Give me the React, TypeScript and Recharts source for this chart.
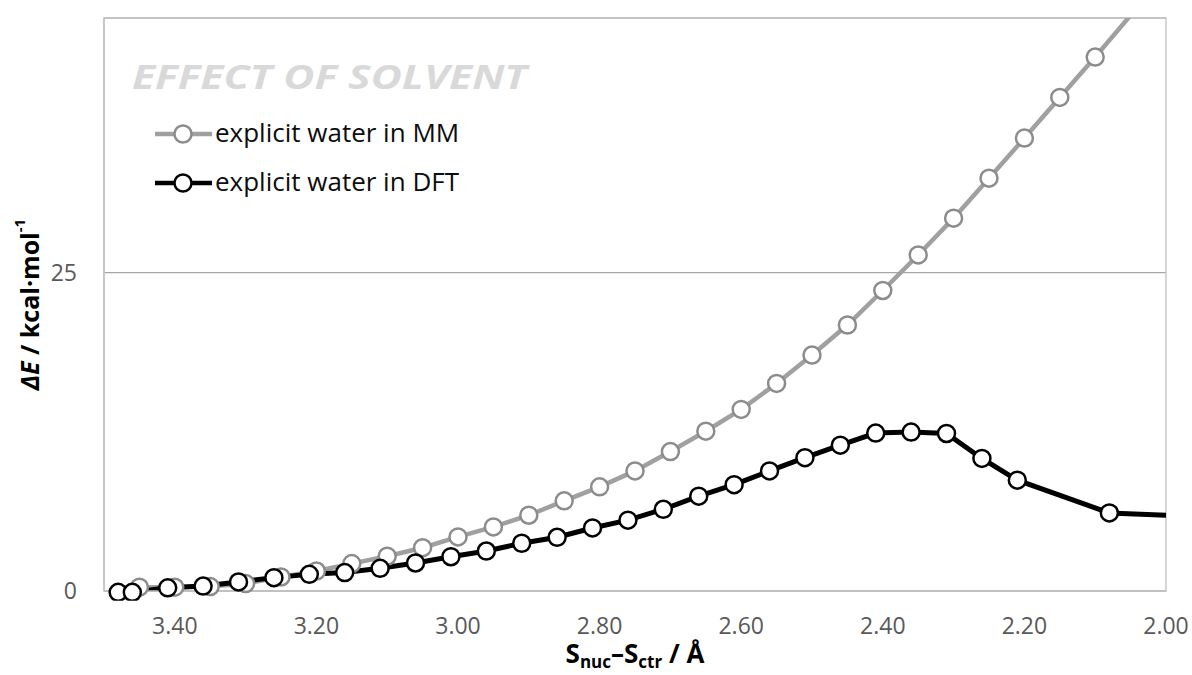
import React from "react";
import {
  LineChart,
  Line,
  XAxis,
  YAxis,
  CartesianGrid,
  ReferenceArea,
  Customized,
} from "recharts";

// distances S_nuc–S_ctr (Å) and energies (kcal/mol)
const mmDistance = [
  3.45, 3.4, 3.35, 3.3, 3.25, 3.2, 3.15, 3.1, 3.05, 3.0, 2.95, 2.9, 2.85, 2.8,
  2.75, 2.7, 2.65, 2.6, 2.55, 2.5, 2.45, 2.4, 2.35, 2.3, 2.25, 2.2, 2.15, 2.1,
  2.0,
];
const mmEnergy = [
  0.3, 0.3, 0.35, 0.58, 1.1, 1.57, 2.15, 2.73, 3.4, 4.25, 5.03, 5.95, 7.08,
  8.18, 9.43, 10.95, 12.55, 14.26, 16.3, 18.53, 20.89, 23.6, 26.39, 29.28,
  32.42, 35.57, 38.76, 41.93, 48.5,
];

const dftDistance = [
  3.48, 3.46, 3.41, 3.36, 3.31, 3.26, 3.21, 3.16, 3.11, 3.06, 3.01, 2.96, 2.91,
  2.86, 2.81, 2.76, 2.71, 2.66, 2.61, 2.56, 2.51, 2.46, 2.41, 2.36, 2.31, 2.26,
  2.21, 2.08, 1.95,
];
const dftEnergy = [
  -0.1, -0.1, 0.25, 0.39, 0.71, 1.05, 1.31, 1.45, 1.78, 2.2, 2.69, 3.14, 3.75,
  4.22, 4.95, 5.56, 6.42, 7.45, 8.35, 9.43, 10.47, 11.45, 12.4, 12.48, 12.37,
  10.41, 8.7, 6.13, 5.85,
];

const xTicks = [2.0, 2.2, 2.4, 2.6, 2.8, 3.0, 3.2, 3.4];
const yTicks = [0, 25];

const seriesNames = ["explicit water in MM", "explicit water in DFT"];
const seriesColors = ["#a0a0a0", "#000000"];
const markerColors = ["#8c8c8c", "#000000"];

const mmData = mmDistance.map((x, i) => ({ x, y: mmEnergy[i] }));
const dftData = dftDistance.map((x, i) => ({ x, y: dftEnergy[i] }));

const FONT = "'Open Sans', 'Liberation Sans', sans-serif";

const XTick = ({ x, y, payload }: any) => (
  <text
    x={x}
    y={y + 43}
    textAnchor="middle"
    fontFamily={FONT}
    fontSize={23}
    fill="#595959"
  >
    {Number(payload.value).toFixed(2)}
  </text>
);

const YTick = ({ x, y, payload }: any) => (
  <text
    x={x - 27}
    y={y + 8}
    textAnchor="end"
    fontFamily={FONT}
    fontSize={23}
    fill="#595959"
  >
    {payload.value}
  </text>
);

const XTitle = ({ viewBox }: any) => {
  const cx = viewBox.x + viewBox.width / 2;
  return (
    <text
      x={cx}
      y={viewBox.y + 72}
      textAnchor="middle"
      fontFamily={FONT}
      fontSize={26}
      fontWeight="bold"
      fill="#000"
    >
      S<tspan fontSize={17} dy={5}>nuc</tspan>
      <tspan dy={-5}>–S</tspan>
      <tspan fontSize={17} dy={5}>ctr</tspan>
      <tspan dy={-5}> / Å</tspan>
    </text>
  );
};

const YTitle = ({ viewBox }: any) => {
  const cx = 29;
  const cy = viewBox.y + viewBox.height / 2;
  return (
    <text
      x={cx}
      y={cy}
      transform={`rotate(-90 ${cx} ${cy})`}
      textAnchor="middle"
      dominantBaseline="central"
      fontFamily={FONT}
      fontSize={25}
      fontWeight="bold"
      fill="#000"
    >
      <tspan fontStyle="italic">ΔE</tspan> / kcal·mol
      <tspan fontSize={15} dy={-10}>-1</tspan>
    </text>
  );
};

// chart title and legend sit inside the plot area, top left
const TitleAndLegend = () => (
  <g>
    <text
      x={132}
      y={89}
      fontFamily={FONT}
      fontSize={34}
      fontWeight="bold"
      fontStyle="italic"
      fill="#d9d9d9"
      textLength={395}
      lengthAdjust="spacingAndGlyphs"
    >
      EFFECT OF SOLVENT
    </text>
    {seriesNames.map((name, i) => {
      const cy = 134 + i * 49;
      return (
        <g key={name}>
          <line
            x1={155}
            x2={212}
            y1={cy}
            y2={cy}
            stroke={seriesColors[i]}
            strokeWidth={4.5}
          />
          <circle
            cx={183}
            cy={cy}
            r={8.5}
            fill="#fff"
            stroke={markerColors[i]}
            strokeWidth={2.5}
          />
          <text
            x={215}
            y={cy + 8}
            fontFamily={FONT}
            fontSize={26}
            fill="#0d0d0d"
          >
            {name}
          </text>
        </g>
      );
    })}
  </g>
);

const App = () => {
  return (
    <div style={{ position: "absolute", left: 0, top: 0, background: "#fff" }}>
      <LineChart
        width={1192}
        height={675}
        margin={{ top: 18, right: 26, bottom: 24, left: 0 }}
      >
        <CartesianGrid vertical={false} stroke="#a6a6a6" strokeWidth={1.2} />
        <ReferenceArea
          x1={2.0}
          x2={3.5}
          y1={0}
          y2={45}
          fill="none"
          stroke="#c0c0c0"
          strokeWidth={1.3}
        />
        <XAxis
          dataKey="x"
          type="number"
          domain={[2.0, 3.5]}
          reversed
          allowDataOverflow
          ticks={xTicks}
          tick={<XTick />}
          tickLine={false}
          tickSize={0}
          tickMargin={0}
          axisLine={{ stroke: "#c0c0c0", strokeWidth: 1.3 }}
          height={60}
          label={<XTitle />}
        />
        <YAxis
          type="number"
          domain={[0, 45]}
          allowDataOverflow
          ticks={yTicks}
          tick={<YTick />}
          tickLine={false}
          tickSize={0}
          tickMargin={0}
          axisLine={{ stroke: "#c0c0c0", strokeWidth: 1.3 }}
          width={104}
          label={<YTitle />}
        />
        <Line
          data={mmData}
          dataKey="y"
          name={seriesNames[0]}
          type="linear"
          stroke={seriesColors[0]}
          strokeWidth={4.5}
          dot={{
            r: 8.5,
            fill: "#fff",
            stroke: markerColors[0],
            strokeWidth: 2.5,
            clipDot: false,
          }}
          activeDot={false}
          isAnimationActive={false}
        />
        <Line
          data={dftData}
          dataKey="y"
          name={seriesNames[1]}
          type="linear"
          stroke={seriesColors[1]}
          strokeWidth={5}
          dot={{
            r: 8.5,
            fill: "#fff",
            stroke: markerColors[1],
            strokeWidth: 2.5,
            clipDot: false,
          }}
          activeDot={false}
          isAnimationActive={false}
        />
        <Customized component={TitleAndLegend} />
      </LineChart>
    </div>
  );
};

export default App;
